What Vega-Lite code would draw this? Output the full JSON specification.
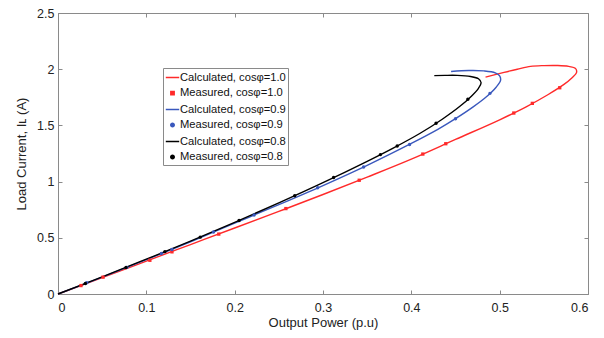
{
  "$schema": "https://vega.github.io/schema/vega-lite/v6.json",
  "width": 530,
  "height": 281,
  "autosize": "none",
  "padding": {"left": 58, "top": 13, "right": 16, "bottom": 44},
  "background": "white",
  "config": {
    "font": "Liberation Sans",
    "view": {"stroke": "#8a8a8a", "strokeWidth": 1},
    "axis": {
      "grid": false,
      "domainColor": "#8a8a8a",
      "tickColor": "#8a8a8a",
      "tickSize": -4,
      "labelFont": "Liberation Sans",
      "labelFontSize": 12.5,
      "labelColor": "#222222",
      "titleFont": "Liberation Sans",
      "titleFontSize": 13,
      "titleFontWeight": "normal",
      "titleColor": "#222222"
    }
  },
  "datasets": {
    "calc": [
      {"series": "Calculated, cosφ=1.0", "o": 0, "x": 0, "y": 0},
      {"series": "Calculated, cosφ=1.0", "o": 1, "x": 0.05, "y": 0.145},
      {"series": "Calculated, cosφ=1.0", "o": 2, "x": 0.1, "y": 0.293},
      {"series": "Calculated, cosφ=1.0", "o": 3, "x": 0.15, "y": 0.44},
      {"series": "Calculated, cosφ=1.0", "o": 4, "x": 0.2, "y": 0.587},
      {"series": "Calculated, cosφ=1.0", "o": 5, "x": 0.25, "y": 0.735},
      {"series": "Calculated, cosφ=1.0", "o": 6, "x": 0.3, "y": 0.885},
      {"series": "Calculated, cosφ=1.0", "o": 7, "x": 0.35, "y": 1.04},
      {"series": "Calculated, cosφ=1.0", "o": 8, "x": 0.4, "y": 1.2},
      {"series": "Calculated, cosφ=1.0", "o": 9, "x": 0.45, "y": 1.375},
      {"series": "Calculated, cosφ=1.0", "o": 10, "x": 0.5, "y": 1.55},
      {"series": "Calculated, cosφ=1.0", "o": 11, "x": 0.53, "y": 1.665},
      {"series": "Calculated, cosφ=1.0", "o": 12, "x": 0.555, "y": 1.775},
      {"series": "Calculated, cosφ=1.0", "o": 13, "x": 0.572, "y": 1.86},
      {"series": "Calculated, cosφ=1.0", "o": 14, "x": 0.582, "y": 1.925},
      {"series": "Calculated, cosφ=1.0", "o": 15, "x": 0.587, "y": 1.97},
      {"series": "Calculated, cosφ=1.0", "o": 16, "x": 0.586, "y": 2.005},
      {"series": "Calculated, cosφ=1.0", "o": 17, "x": 0.578, "y": 2.025},
      {"series": "Calculated, cosφ=1.0", "o": 18, "x": 0.565, "y": 2.033},
      {"series": "Calculated, cosφ=1.0", "o": 19, "x": 0.55, "y": 2.032},
      {"series": "Calculated, cosφ=1.0", "o": 20, "x": 0.535, "y": 2.025},
      {"series": "Calculated, cosφ=1.0", "o": 21, "x": 0.52, "y": 2.0},
      {"series": "Calculated, cosφ=1.0", "o": 22, "x": 0.505, "y": 1.972},
      {"series": "Calculated, cosφ=1.0", "o": 23, "x": 0.484, "y": 1.93},
      {"series": "Calculated, cosφ=0.9", "o": 0, "x": 0, "y": 0},
      {"series": "Calculated, cosφ=0.9", "o": 1, "x": 0.05, "y": 0.15},
      {"series": "Calculated, cosφ=0.9", "o": 2, "x": 0.1, "y": 0.305},
      {"series": "Calculated, cosφ=0.9", "o": 3, "x": 0.15, "y": 0.465},
      {"series": "Calculated, cosφ=0.9", "o": 4, "x": 0.2, "y": 0.63},
      {"series": "Calculated, cosφ=0.9", "o": 5, "x": 0.25, "y": 0.795},
      {"series": "Calculated, cosφ=0.9", "o": 6, "x": 0.3, "y": 0.965},
      {"series": "Calculated, cosφ=0.9", "o": 7, "x": 0.35, "y": 1.145},
      {"series": "Calculated, cosφ=0.9", "o": 8, "x": 0.4, "y": 1.34},
      {"series": "Calculated, cosφ=0.9", "o": 9, "x": 0.43, "y": 1.465},
      {"series": "Calculated, cosφ=0.9", "o": 10, "x": 0.45, "y": 1.56},
      {"series": "Calculated, cosφ=0.9", "o": 11, "x": 0.47, "y": 1.665},
      {"series": "Calculated, cosφ=0.9", "o": 12, "x": 0.485, "y": 1.755},
      {"series": "Calculated, cosφ=0.9", "o": 13, "x": 0.496, "y": 1.84},
      {"series": "Calculated, cosφ=0.9", "o": 14, "x": 0.501, "y": 1.9},
      {"series": "Calculated, cosφ=0.9", "o": 15, "x": 0.5, "y": 1.94},
      {"series": "Calculated, cosφ=0.9", "o": 16, "x": 0.495, "y": 1.968},
      {"series": "Calculated, cosφ=0.9", "o": 17, "x": 0.482, "y": 1.985},
      {"series": "Calculated, cosφ=0.9", "o": 18, "x": 0.465, "y": 1.988},
      {"series": "Calculated, cosφ=0.9", "o": 19, "x": 0.445, "y": 1.98},
      {"series": "Calculated, cosφ=0.8", "o": 0, "x": 0, "y": 0},
      {"series": "Calculated, cosφ=0.8", "o": 1, "x": 0.05, "y": 0.152},
      {"series": "Calculated, cosφ=0.8", "o": 2, "x": 0.1, "y": 0.31},
      {"series": "Calculated, cosφ=0.8", "o": 3, "x": 0.15, "y": 0.47},
      {"series": "Calculated, cosφ=0.8", "o": 4, "x": 0.2, "y": 0.637},
      {"series": "Calculated, cosφ=0.8", "o": 5, "x": 0.25, "y": 0.81},
      {"series": "Calculated, cosφ=0.8", "o": 6, "x": 0.3, "y": 0.99},
      {"series": "Calculated, cosφ=0.8", "o": 7, "x": 0.35, "y": 1.18},
      {"series": "Calculated, cosφ=0.8", "o": 8, "x": 0.38, "y": 1.3},
      {"series": "Calculated, cosφ=0.8", "o": 9, "x": 0.41, "y": 1.43},
      {"series": "Calculated, cosφ=0.8", "o": 10, "x": 0.435, "y": 1.555},
      {"series": "Calculated, cosφ=0.8", "o": 11, "x": 0.455, "y": 1.67},
      {"series": "Calculated, cosφ=0.8", "o": 12, "x": 0.468, "y": 1.76},
      {"series": "Calculated, cosφ=0.8", "o": 13, "x": 0.476, "y": 1.83},
      {"series": "Calculated, cosφ=0.8", "o": 14, "x": 0.479, "y": 1.88},
      {"series": "Calculated, cosφ=0.8", "o": 15, "x": 0.476, "y": 1.915},
      {"series": "Calculated, cosφ=0.8", "o": 16, "x": 0.467, "y": 1.935},
      {"series": "Calculated, cosφ=0.8", "o": 17, "x": 0.452, "y": 1.945},
      {"series": "Calculated, cosφ=0.8", "o": 18, "x": 0.438, "y": 1.945},
      {"series": "Calculated, cosφ=0.8", "o": 19, "x": 0.426, "y": 1.943}
    ],
    "meas": [
      {"series": "Measured, cosφ=1.0", "x": 0.026, "y": 0.075},
      {"series": "Measured, cosφ=1.0", "x": 0.051, "y": 0.15},
      {"series": "Measured, cosφ=1.0", "x": 0.104, "y": 0.3},
      {"series": "Measured, cosφ=1.0", "x": 0.129, "y": 0.375},
      {"series": "Measured, cosφ=1.0", "x": 0.182, "y": 0.533},
      {"series": "Measured, cosφ=1.0", "x": 0.258, "y": 0.76},
      {"series": "Measured, cosφ=1.0", "x": 0.341, "y": 1.012},
      {"series": "Measured, cosφ=1.0", "x": 0.413, "y": 1.245},
      {"series": "Measured, cosφ=1.0", "x": 0.439, "y": 1.337},
      {"series": "Measured, cosφ=1.0", "x": 0.516, "y": 1.61},
      {"series": "Measured, cosφ=1.0", "x": 0.537, "y": 1.696},
      {"series": "Measured, cosφ=1.0", "x": 0.568, "y": 1.835},
      {"series": "Measured, cosφ=0.9", "x": 0.0325, "y": 0.1},
      {"series": "Measured, cosφ=0.9", "x": 0.078, "y": 0.237},
      {"series": "Measured, cosφ=0.9", "x": 0.117, "y": 0.36},
      {"series": "Measured, cosφ=0.9", "x": 0.129, "y": 0.395},
      {"series": "Measured, cosφ=0.9", "x": 0.176, "y": 0.551},
      {"series": "Measured, cosφ=0.9", "x": 0.222, "y": 0.703},
      {"series": "Measured, cosφ=0.9", "x": 0.294, "y": 0.945},
      {"series": "Measured, cosφ=0.9", "x": 0.346, "y": 1.13},
      {"series": "Measured, cosφ=0.9", "x": 0.398, "y": 1.33},
      {"series": "Measured, cosφ=0.9", "x": 0.45, "y": 1.56},
      {"series": "Measured, cosφ=0.9", "x": 0.489, "y": 1.785},
      {"series": "Measured, cosφ=0.8", "x": 0.031, "y": 0.094},
      {"series": "Measured, cosφ=0.8", "x": 0.077, "y": 0.236},
      {"series": "Measured, cosφ=0.8", "x": 0.121, "y": 0.377},
      {"series": "Measured, cosφ=0.8", "x": 0.161, "y": 0.506},
      {"series": "Measured, cosφ=0.8", "x": 0.205, "y": 0.654},
      {"series": "Measured, cosφ=0.8", "x": 0.268, "y": 0.875},
      {"series": "Measured, cosφ=0.8", "x": 0.312, "y": 1.036},
      {"series": "Measured, cosφ=0.8", "x": 0.365, "y": 1.24},
      {"series": "Measured, cosφ=0.8", "x": 0.384, "y": 1.317},
      {"series": "Measured, cosφ=0.8", "x": 0.428, "y": 1.52},
      {"series": "Measured, cosφ=0.8", "x": 0.464, "y": 1.732}
    ]
  },
  "encoding": {
    "x": {
      "field": "x", "type": "quantitative",
      "scale": {"domain": [0, 0.6], "nice": false, "zero": false},
      "axis": {"orient": "bottom", "values": [0, 0.1, 0.2, 0.3, 0.4, 0.5, 0.6], "format": "~g", "labelPadding": 11, "title": "Output Power (p.u)", "titlePadding": 3}
    },
    "y": {
      "field": "y", "type": "quantitative",
      "scale": {"domain": [0, 2.5], "nice": false, "zero": false},
      "axis": {"orient": "left", "values": [0, 0.5, 1, 1.5, 2, 2.5], "format": "~g", "labelPadding": 8, "title": "Load Current, Iʟ (A)", "titlePadding": 8}
    },
    "color": {
      "field": "series", "type": "nominal",
      "scale": {
        "domain": ["Calculated, cosφ=1.0", "Measured, cosφ=1.0", "Calculated, cosφ=0.9", "Measured, cosφ=0.9", "Calculated, cosφ=0.8", "Measured, cosφ=0.8"],
        "range": ["#ff2a2a", "#ff2a2a", "#3a58bd", "#3a58bd", "#000000", "#000000"]
      },
      "legend": {
        "title": null, "orient": "none", "legendX": 105, "legendY": 55,
        "padding": 2, "labelOffset": 0, "rowPadding": 3.5, "offset": 0,
        "labelFont": "Liberation Sans", "labelFontSize": 11.2, "labelColor": "#111111",
        "strokeColor": "#8a8a8a", "fillColor": "white", "symbolOffset": 0,
        "symbolStrokeWidth": 1.5
      }
    }
  },
  "layer": [
    {
      "data": {"name": "calc"},
      "mark": {"type": "line", "strokeWidth": 1.4, "interpolate": "catmull-rom"},
      "encoding": {
        "order": {"field": "o", "type": "quantitative"}
      }
    },
    {
      "data": {"name": "meas"},
      "mark": {"type": "point", "filled": true, "opacity": 1},
      "encoding": {
        "x": {
          "field": "x", "type": "quantitative",
          "axis": {"orient": "top", "values": [0, 0.1, 0.2, 0.3, 0.4, 0.5, 0.6], "labels": false, "title": null, "domain": false}
        },
        "y": {
          "field": "y", "type": "quantitative",
          "axis": {"orient": "right", "values": [0, 0.5, 1, 1.5, 2, 2.5], "labels": false, "title": null, "domain": false}
        },
        "shape": {
          "field": "series", "type": "nominal",
          "scale": {
            "domain": ["Calculated, cosφ=1.0", "Measured, cosφ=1.0", "Calculated, cosφ=0.9", "Measured, cosφ=0.9", "Calculated, cosφ=0.8", "Measured, cosφ=0.8"],
            "range": ["stroke", "square", "stroke", "circle", "stroke", "circle"]
          },
          "legend": {
            "title": null, "orient": "none", "legendX": 105, "legendY": 55,
            "padding": 2, "labelOffset": 0, "rowPadding": 3.5, "offset": 0,
            "labelFont": "Liberation Sans", "labelFontSize": 11.2, "labelColor": "#111111",
            "strokeColor": "#8a8a8a", "fillColor": "white", "symbolOffset": 0,
            "symbolStrokeWidth": 1.5
          }
        },
        "size": {
          "field": "series", "type": "nominal",
          "scale": {
            "type": "ordinal",
            "domain": ["Calculated, cosφ=1.0", "Measured, cosφ=1.0", "Calculated, cosφ=0.9", "Measured, cosφ=0.9", "Calculated, cosφ=0.8", "Measured, cosφ=0.8"],
            "range": [180, 11, 180, 12, 180, 12]
          },
          "legend": {
            "title": null, "orient": "none", "legendX": 105, "legendY": 55,
            "padding": 2, "labelOffset": 0, "rowPadding": 3.5, "offset": 0,
            "labelFont": "Liberation Sans", "labelFontSize": 11.2, "labelColor": "#111111",
            "strokeColor": "#8a8a8a", "fillColor": "white", "symbolOffset": 0,
            "symbolStrokeWidth": 1.5
          }
        }
      }
    }
  ]
}
